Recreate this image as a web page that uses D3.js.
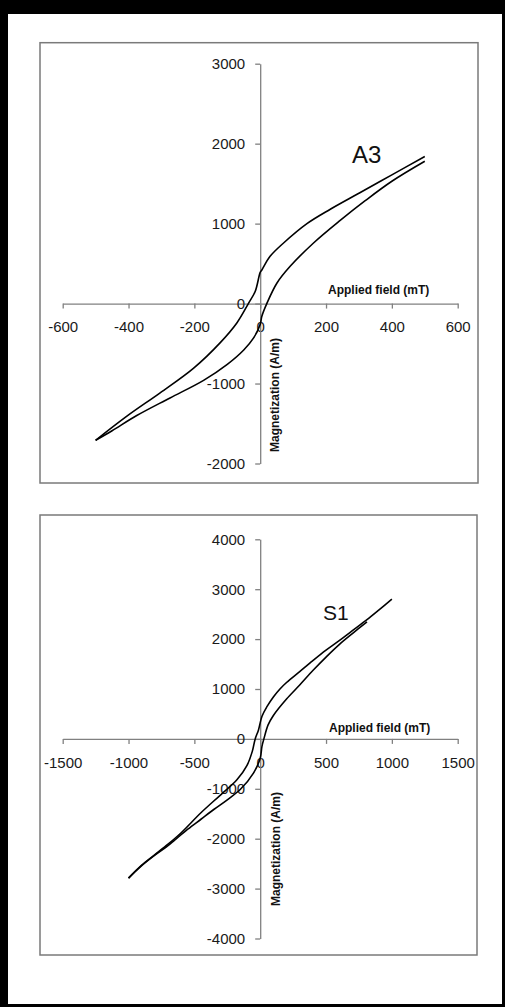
<!DOCTYPE html>
<html>
<head>
<meta charset="utf-8">
<script src="https://cdn.jsdelivr.net/npm/d3@7"></script>
<style>
  body { margin: 0; background: #000; }
  svg text { font-family: "Liberation Sans", Arial, sans-serif; }
</style>
</head>
<body>
<div id="chart"></div>
<script>
  // A3 hysteresis loop (applied field in mT, magnetization in A/m)
  const a3DownH = [500, 400, 300, 213, 142, 71, 30, 5, 0, -15, -36, -71, -122, -203, -304, -405, -500];
  const a3DownM = [1840, 1610, 1380, 1180, 1000, 758, 591, 420, 390, 154, 0, -242, -491, -810, -1116, -1408, -1710];
  const a3UpH = [-500, -450, -375, -274, -172, -100, -50, -20, 0, 5, 20, 51, 91, 162, 243, 320, 400, 500];
  const a3UpM = [-1710, -1590, -1400, -1180, -960, -760, -580, -429, -260, -158, 0, 258, 466, 758, 1040, 1290, 1530, 1780];

  // S1 hysteresis loop
  const s1DownH = [1000, 900, 811, 700, 600, 500, 400, 300, 200, 150, 100, 50, 13, -13, -38, -60, -100, -177, -300, -450, -600, -700, -800, -900, -1000];
  const s1DownM = [2800, 2580, 2390, 2170, 1970, 1780, 1570, 1350, 1130, 1000, 840, 640, 450, 180, 0, -250, -530, -820, -1120, -1480, -1880, -2110, -2320, -2530, -2790];
  const s1UpH = [-1000, -900, -800, -700, -650, -550, -450, -350, -250, -150, -50, 0, 13, 28, 60, 100, 200, 300, 400, 500, 600, 700, 811];
  const s1UpM = [-2790, -2540, -2330, -2140, -2030, -1810, -1610, -1410, -1220, -1010, -680, -387, -153, 0, 280, 470, 800, 1080, 1370, 1640, 1890, 2110, 2347];

  const a3XTicks = [-600, -400, -200, 0, 200, 400, 600];
  const a3YTicks = [-2000, -1000, 0, 1000, 2000, 3000];
  const s1XTicks = [-1500, -1000, -500, 0, 500, 1000, 1500];
  const s1YTicks = [-4000, -3000, -2000, -1000, 0, 1000, 2000, 3000, 4000];

  const W = 505, H = 1007;

  var svg = d3.select("#chart")
    .append("svg")
    .attr("width", W)
    .attr("height", H);

  // black frame with white inner area
  svg.append("rect").attr("width", W).attr("height", H).attr("fill", "#000");
  svg.append("rect").attr("x", 8).attr("y", 14).attr("width", 494).attr("height", 990).attr("fill", "#fff");

  function zip(hs, ms) {
    return hs.map((h, i) => [h, ms[i]]);
  }

  function panel(opt) {
    svg.append("rect")
      .attr("x", opt.box[0]).attr("y", opt.box[1])
      .attr("width", opt.box[2]).attr("height", opt.box[3])
      .attr("fill", "none")
      .style("stroke", "#7a7a7a")
      .style("stroke-width", "1.5px");

    let x = d3.scaleLinear().domain(opt.xDomain).range([62.7, 457.7]);
    let y = d3.scaleLinear().domain(opt.yDomain).range(opt.yRange);

    let gx = svg.append("g")
      .attr("transform", `translate(0,${y(0)})`)
      .call(d3.axisBottom(x).tickValues(opt.xTicks).tickSizeInner(5).tickSizeOuter(0)
        .tickPadding(13).tickFormat(d => String(d)));
    let gy = svg.append("g")
      .attr("transform", `translate(${x(0)},0)`)
      .call(d3.axisLeft(y).tickValues(opt.yTicks).tickSizeInner(5).tickSizeOuter(0)
        .tickPadding(10).tickFormat(d => String(d)));

    [gx, gy].forEach(g => {
      g.select(".domain").style("stroke", "#808080").style("stroke-width", "1.3px");
      g.selectAll(".tick line").style("stroke", "#808080").style("stroke-width", "1.3px");
      g.selectAll(".tick text").style("font-size", "15px").style("fill", "#1a1a1a")
        .style("font-family", "'Liberation Sans', Arial, sans-serif");
    });

    let line = d3.line()
      .x(d => x(d[0]))
      .y(d => y(d[1]))
      .curve(d3.curveCatmullRom.alpha(0.5));

    opt.series.forEach(s => {
      svg.append("path")
        .attr("d", line(s))
        .style("fill", "none")
        .style("stroke", "#000")
        .style("stroke-width", "1.6px");
    });

    svg.append("text")
      .attr("x", opt.xLabel[0]).attr("y", opt.xLabel[1])
      .style("font-size", "12px").style("font-weight", "bold").style("fill", "#111")
      .text("Applied field (mT)");

    svg.append("text")
      .attr("transform", `translate(${opt.yLabel[0]},${opt.yLabel[1]}) rotate(-90)`)
      .attr("text-anchor", "middle")
      .style("font-size", "12px").style("font-weight", "bold").style("fill", "#111")
      .text("Magnetization (A/m)");

    svg.append("text")
      .attr("x", opt.name[0]).attr("y", opt.name[1])
      .style("font-size", opt.name[3]).style("fill", "#111")
      .text(opt.name[2]);
  }

  panel({
    box: [40, 42.7, 438, 440.3],
    xDomain: [-600, 600], yDomain: [-2000, 3000], yRange: [463.5, 63.7],
    xTicks: a3XTicks, yTicks: a3YTicks,
    series: [zip(a3DownH, a3DownM), zip(a3UpH, a3UpM)],
    xLabel: [328, 294], yLabel: [279, 395],
    name: [352, 162.7, "A3", "24px"]
  });

  panel({
    box: [40, 515, 437, 440],
    xDomain: [-1500, 1500], yDomain: [-4000, 4000], yRange: [938.5, 539.3],
    xTicks: s1XTicks, yTicks: s1YTicks,
    series: [zip(s1DownH, s1DownM), zip(s1UpH, s1UpM)],
    xLabel: [329, 731.7], yLabel: [280, 849],
    name: [323, 620, "S1", "21px"]
  });
</script>
</body>
</html>
